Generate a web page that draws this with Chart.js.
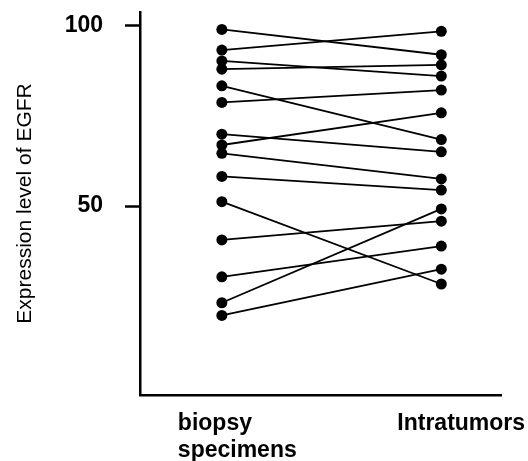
<!DOCTYPE html>
<html>
<head>
<meta charset="utf-8">
<script src="https://cdn.jsdelivr.net/npm/chart.js@4.4.0/dist/chart.umd.min.js"></script>
<style>
  html,body{margin:0;padding:0;background:#fff;}
  canvas{display:block;}
</style>
</head>
<body>
<canvas id="chart" width="528" height="461"></canvas>
<script>
// --- Datos ---
const categorias = [['biopsy', 'specimens'], 'Intratumors'];
const biopsia    = [98.9, 93.2, 90.2, 87.9, 83.3, 78.7, 69.9, 66.9, 64.6, 58.2, 51.2, 40.6, 30.4, 23.2, 19.7];
const intratumor = [91.9, 98.4, 86.0, 89.1, 68.4, 82.1, 65.0, 75.8, 57.5, 54.4, 28.4, 45.8, 38.9, 49.2, 32.5];
const yTicks = [50, 100];

const fuente = '"Liberation Sans", Arial, Helvetica, sans-serif';

// un par de puntos por paciente
const datasets = biopsia.map((b, i) => ({
    data: [{x: 0, y: b}, {x: 1, y: intratumor[i]}],
    borderColor: '#000', backgroundColor: '#000', borderWidth: 1.8,
    pointRadius: 5.5, pointBorderWidth: 0, showLine: true
}));

// --- Grafico ---
const ctx = document.getElementById('chart').getContext('2d');
const myChart = new Chart(ctx, {
    type: 'scatter',
    data: { datasets },
    options: {
        responsive: false, animation: false, devicePixelRatio: 1,
        layout: { padding: { left: 0, top: 12, right: 27, bottom: 0 } },
        plugins: { legend: { display: false }, tooltip: { enabled: false } },
        scales: {
            x: {
                type: 'linear', min: -0.373, max: 1.272,
                afterBuildTicks: s => { s.ticks = categorias.map((c, i) => ({ value: i })); },
                afterFit: s => { s.height = 66; s.paddingLeft = 0; s.paddingRight = 0; },
                ticks: {
                    callback: v => categorias[v], color: '#000', padding: 15,
                    align: 'start', labelOffset: -44,
                    maxRotation: 0, autoSkip: false,
                    font: { family: fuente, size: 23, weight: 'bold', lineHeight: 1.17 }
                },
                grid: { drawOnChartArea: false, drawTicks: false },
                border: { color: '#000', width: 2.5 }
            },
            y: {
                min: -2.35, max: 103.74,
                afterBuildTicks: s => { s.ticks = yTicks.map(v => ({ value: v })); },
                afterFit: s => { s.width = 140; s.paddingTop = 0; s.paddingBottom = 0; },
                ticks: {
                    color: '#000', padding: 22,
                    font: { family: fuente, size: 23, weight: 'bold' }
                },
                grid: { drawOnChartArea: false, drawTicks: true, tickLength: 15, tickWidth: 2.5, tickColor: '#000', color: '#000' },
                border: { color: '#000', width: 2.5 },
                title: {
                    display: true, text: 'Expression level of EGFR', color: '#000',
                    font: { family: fuente, size: 21, weight: 'normal' },
                    padding: { top: 13, bottom: 0 }
                }
            }
        }
    }
});
</script>
</body>
</html>
